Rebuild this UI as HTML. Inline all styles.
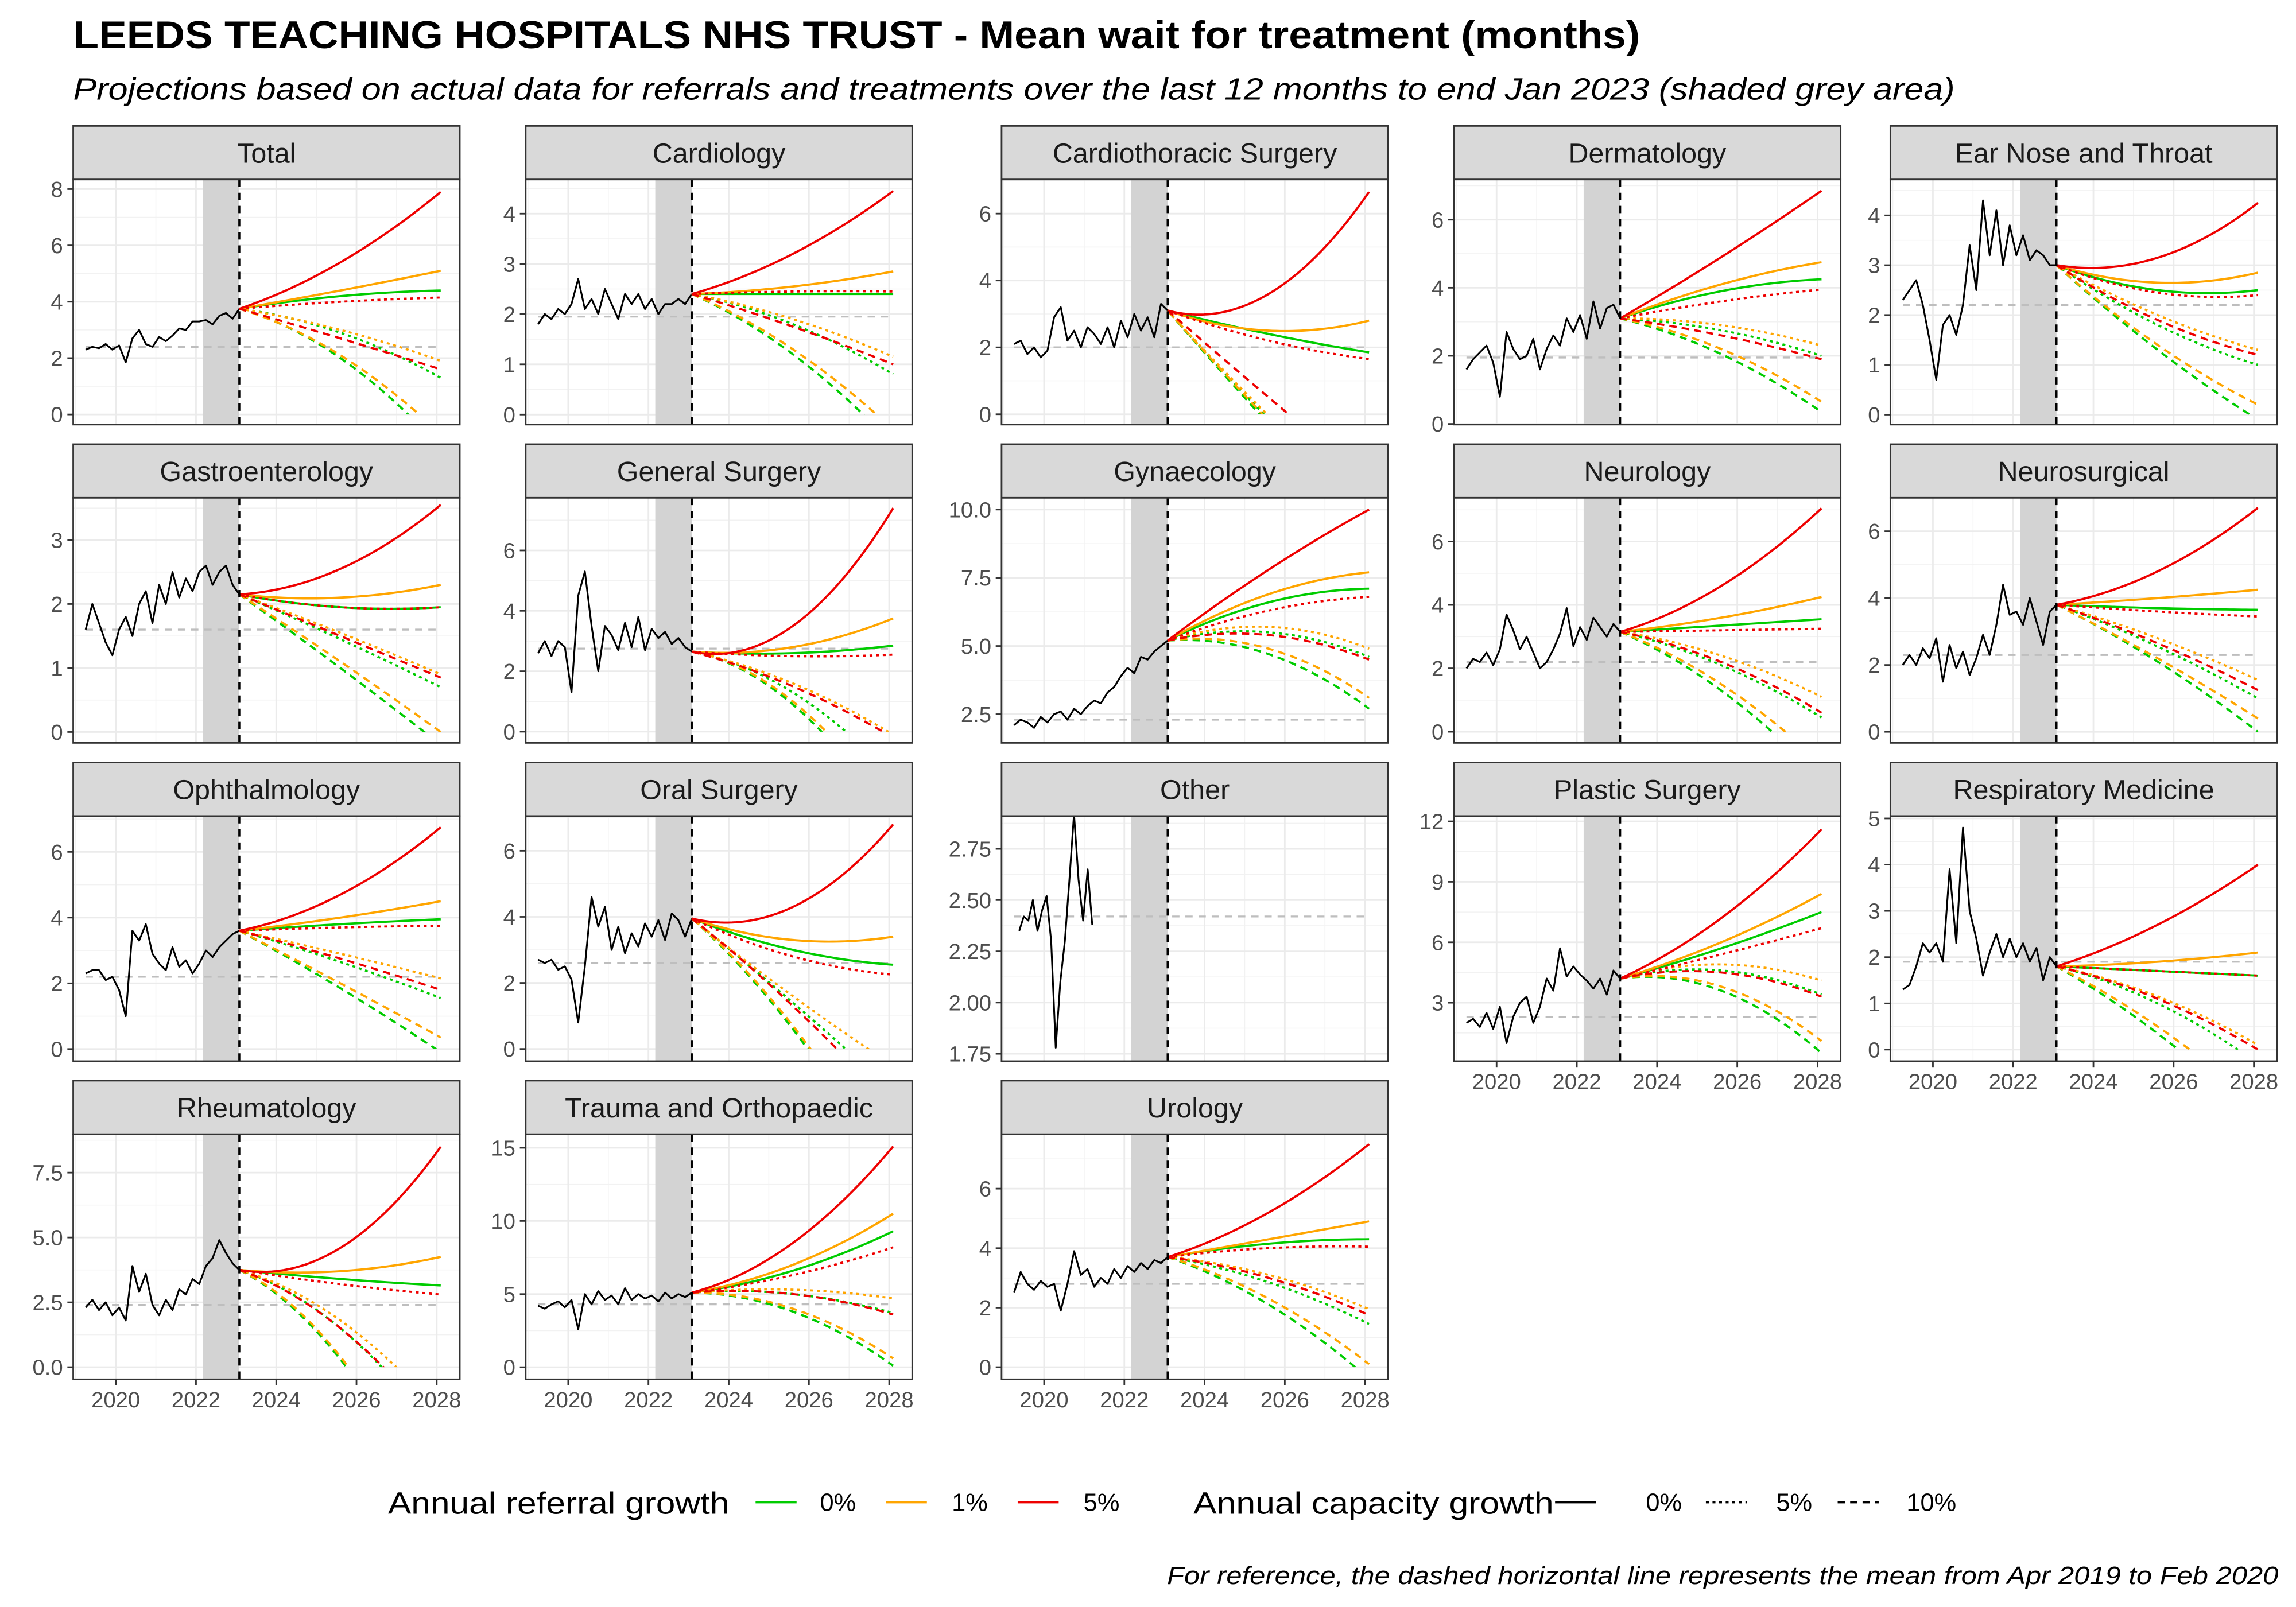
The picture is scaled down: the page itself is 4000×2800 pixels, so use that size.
<!DOCTYPE html>
<html><head><meta charset="utf-8"><title>Leeds Teaching Hospitals - Mean wait</title>
<style>
html,body{margin:0;padding:0;background:#fff;}
svg{display:block;font-family:"Liberation Sans",Arial,sans-serif;}
</style></head>
<body>
<svg id="chart" xmlns="http://www.w3.org/2000/svg" width="4000" height="2800" viewBox="0 0 1568 1097.6">
<rect x="0" y="0" width="1568" height="1097.6" fill="#fff"/>
<text x="50" y="33" font-size="26.5" font-weight="bold" fill="#000" textLength="1070" lengthAdjust="spacingAndGlyphs">LEEDS TEACHING HOSPITALS NHS TRUST - Mean wait for treatment (months)</text>
<text x="50" y="68" font-size="21" font-style="italic" fill="#000" textLength="1285" lengthAdjust="spacingAndGlyphs">Projections based on actual data for referrals and treatments over the last 12 months to end Jan 2023 (shaded grey area)</text>
<g id="panels"></g>
<g id="legend">
<text x="265" y="1034" font-size="21" fill="#000" textLength="233" lengthAdjust="spacingAndGlyphs">Annual referral growth</text>
<line x1="516" y1="1026" x2="544" y2="1026" stroke="#00CC00" stroke-width="1.6"/>
<text x="560" y="1032" font-size="17" fill="#000">0%</text>
<line x1="605" y1="1026" x2="633" y2="1026" stroke="#FFA500" stroke-width="1.6"/>
<text x="650" y="1032" font-size="17" fill="#000">1%</text>
<line x1="695" y1="1026" x2="723" y2="1026" stroke="#EE0000" stroke-width="1.6"/>
<text x="740" y="1032" font-size="17" fill="#000">5%</text>
<text x="815" y="1034" font-size="21" fill="#000" textLength="246" lengthAdjust="spacingAndGlyphs">Annual capacity growth</text>
<line x1="1062" y1="1026" x2="1090" y2="1026" stroke="#000" stroke-width="1.6"/>
<text x="1124" y="1032" font-size="17" fill="#000">0%</text>
<line x1="1165" y1="1026" x2="1193" y2="1026" stroke="#000" stroke-width="1.6" stroke-dasharray="2,2.5"/>
<text x="1213" y="1032" font-size="17" fill="#000">5%</text>
<line x1="1255" y1="1026" x2="1283" y2="1026" stroke="#000" stroke-width="1.6" stroke-dasharray="5,3.5"/>
<text x="1302" y="1032" font-size="17" fill="#000">10%</text>
</g>
<text x="1556" y="1082" font-size="17" font-style="italic" fill="#000" text-anchor="end" textLength="759" lengthAdjust="spacingAndGlyphs">For reference, the dashed horizontal line represents the mean from Apr 2019 to Feb 2020</text>
</svg>
<script>
const panelNames=["Total","Cardiology","Cardiothoracic Surgery","Dermatology","Ear Nose and Throat","Gastroenterology","General Surgery","Gynaecology","Neurology","Neurosurgical","Ophthalmology","Oral Surgery","Other","Plastic Surgery","Respiratory Medicine","Rheumatology","Trauma and Orthopaedic","Urology"];
const yLo=[-0.36,-0.2,-0.31,-0.02,-0.2,-0.17,-0.37,1.45,-0.35,-0.33,-0.37,-0.37,1.714,0.1,-0.25,-0.47,-0.83,-0.41];
const yHi=[8.34,4.68,7.02,7.18,4.72,3.66,7.74,10.43,7.38,7.0,7.09,7.05,2.91,12.26,5.05,8.98,15.93,7.83];
const yTickLabels=[
["0","2","4","6","8"],["0","1","2","3","4"],["0","2","4","6"],["0","2","4","6"],["0","1","2","3","4"],
["0","1","2","3"],["0","2","4","6"],["2.5","5.0","7.5","10.0"],["0","2","4","6"],["0","2","4","6"],
["0","2","4","6"],["0","2","4","6"],["1.75","2.00","2.25","2.50","2.75"],["3","6","9","12"],["0","1","2","3","4","5"],
["0.0","2.5","5.0","7.5"],["0","5","10","15"],["0","2","4","6"]];
const xTickLabels=["2020","2022","2024","2026","2028"];
const refValues=[2.4,1.95,2.0,1.95,2.2,1.6,2.75,2.3,2.2,2.3,2.2,2.6,2.42,2.3,1.9,2.4,4.3,2.8];
const histStart=[2019.25,2019.25,2019.25,2019.25,2019.25,2019.25,2019.25,2019.25,2019.25,2019.25,2019.25,2019.25,2019.38,2019.25,2019.25,2019.25,2019.25,2019.25];
const histEnd=[2023.08,2023.08,2023.08,2023.08,2023.08,2023.08,2023.08,2023.08,2023.08,2023.08,2023.08,2023.08,2021.2,2023.08,2023.08,2023.08,2023.08,2023.08];
const histValues=[
[2.3,2.4,2.35,2.5,2.3,2.45,1.85,2.7,3.0,2.5,2.4,2.75,2.6,2.8,3.05,3.0,3.3,3.3,3.35,3.2,3.5,3.6,3.4,3.75],
[1.8,2.0,1.9,2.1,2.0,2.2,2.7,2.1,2.3,2.0,2.5,2.2,1.9,2.4,2.2,2.4,2.1,2.3,2.0,2.2,2.2,2.3,2.2,2.4],
[2.1,2.2,1.8,2.0,1.7,1.9,2.9,3.2,2.2,2.5,2.0,2.6,2.4,2.1,2.6,2.0,2.8,2.3,3.0,2.5,2.9,2.3,3.3,3.1],
[1.6,1.9,2.1,2.3,1.8,0.8,2.7,2.2,1.9,2.0,2.5,1.6,2.2,2.6,2.3,3.1,2.7,3.2,2.5,3.6,2.8,3.4,3.5,3.1],
[2.3,2.5,2.7,2.2,1.5,0.7,1.8,2.0,1.6,2.2,3.4,2.5,4.3,3.2,4.1,3.0,3.8,3.2,3.6,3.1,3.3,3.2,3.0,3.0],
[1.6,2.0,1.7,1.4,1.2,1.6,1.8,1.5,2.0,2.2,1.7,2.3,2.0,2.5,2.1,2.4,2.2,2.5,2.6,2.3,2.5,2.6,2.3,2.15],
[2.6,3.0,2.5,3.0,2.8,1.3,4.5,5.3,3.5,2.0,3.5,3.2,2.7,3.6,2.8,3.8,2.7,3.4,3.1,3.3,2.9,3.1,2.8,2.65],
[2.1,2.3,2.2,2.0,2.4,2.2,2.5,2.6,2.3,2.7,2.5,2.8,3.0,2.9,3.3,3.5,3.9,4.2,4.0,4.6,4.5,4.8,5.0,5.2],
[2.0,2.3,2.2,2.5,2.1,2.6,3.7,3.2,2.6,3.0,2.5,2.0,2.2,2.6,3.1,3.9,2.7,3.3,2.9,3.6,3.3,3.0,3.4,3.15],
[2.0,2.3,2.0,2.5,2.2,2.8,1.5,2.6,1.9,2.4,1.7,2.2,2.9,2.3,3.2,4.4,3.5,3.6,3.2,4.0,3.3,2.6,3.6,3.8],
[2.3,2.4,2.4,2.1,2.2,1.8,1.0,3.6,3.3,3.8,2.9,2.6,2.4,3.1,2.5,2.7,2.3,2.6,3.0,2.8,3.1,3.3,3.5,3.6],
[2.7,2.6,2.7,2.4,2.5,2.1,0.8,2.5,4.6,3.7,4.3,3.0,3.7,2.9,3.5,3.1,3.8,3.4,3.9,3.3,4.1,3.9,3.4,3.95],
[2.35,2.42,2.40,2.5,2.35,2.45,2.52,2.3,1.78,2.1,2.3,2.6,2.92,2.6,2.4,2.65,2.38],
[2.0,2.2,1.8,2.5,1.7,2.8,1.0,2.3,3.0,3.3,2.0,2.8,4.2,3.6,5.7,4.3,4.8,4.4,4.1,3.7,4.2,3.4,4.6,4.2],
[1.3,1.4,1.8,2.3,2.1,2.3,1.9,3.9,2.3,4.8,3.0,2.4,1.6,2.1,2.5,2.0,2.4,2.0,2.3,1.9,2.2,1.5,2.0,1.8],
[2.3,2.6,2.2,2.5,2.0,2.3,1.8,3.9,2.9,3.6,2.4,2.0,2.6,2.2,3.0,2.8,3.4,3.2,3.9,4.2,4.9,4.4,4.0,3.75],
[4.2,4.0,4.3,4.5,4.1,4.6,2.6,5.0,4.3,5.2,4.6,4.9,4.3,5.4,4.6,5.0,4.7,4.9,4.5,5.1,4.7,5.0,4.8,5.1],
[2.5,3.2,2.8,2.6,2.9,2.7,2.8,1.9,2.8,3.9,3.1,3.3,2.7,3.0,2.8,3.3,3.0,3.4,3.2,3.5,3.3,3.6,3.5,3.7]];
/* projection order: green 0/5/10, orange 0/5/10, red 0/5/10 (referral growth / capacity growth) */
const projMid=[
[4.2,2.9,2.0,4.4,3.0,2.1,5.4,4.0,2.7],
[2.4,1.8,1.2,2.55,1.9,1.3,3.2,2.45,1.75],
[2.4,-0.15,-0.3,2.5,-0.05,-0.2,3.6,2.2,0.5],
[3.9,2.75,2.05,4.1,2.9,2.2,4.9,3.6,2.6],
[2.5,1.8,1.3,2.65,2.0,1.4,3.15,2.45,1.9],
[1.95,1.45,1.0,2.1,1.55,1.1,2.55,1.95,1.5],
[2.6,1.3,0.9,2.8,1.6,1.0,3.5,2.5,1.5],
[6.6,5.5,4.7,6.9,5.7,4.9,7.8,6.3,5.4],
[3.35,2.1,1.3,3.6,2.4,1.5,4.6,3.2,2.2],
[3.7,2.55,2.1,4.0,2.8,2.2,4.8,3.6,2.65],
[3.8,2.65,1.85,4.0,2.9,2.0,4.7,3.7,2.75],
[3.0,1.4,0.6,3.3,1.6,0.7,4.3,2.8,1.3],
[],
[5.7,4.6,3.6,6.0,4.9,3.8,7.2,5.4,4.5],
[1.7,1.0,0.35,1.9,1.15,0.5,2.7,1.7,1.1],
[3.4,1.5,0.3,3.7,1.8,0.4,4.6,3.2,1.5],
[6.6,5.0,3.8,7.0,5.3,4.0,8.5,6.3,5.0],
[4.15,2.85,2.1,4.3,3.1,2.3,5.2,4.0,3.0]];
const projEnd=[
[4.4,1.3,-1.2,5.1,1.9,-0.7,7.9,4.15,1.6],
[2.4,0.8,-0.6,2.85,1.15,-0.3,4.45,2.45,1.0],
[1.85,-3.0,-3.5,2.8,-2.8,-3.3,6.65,1.65,-2.0],
[4.25,2.0,0.35,4.75,2.3,0.65,6.85,3.95,1.9],
[2.5,1.0,-0.1,2.85,1.3,0.2,4.25,2.4,1.2],
[1.95,0.7,-0.2,2.3,0.9,0.0,3.55,1.95,0.85],
[2.85,-1.5,-3.0,3.75,-0.1,-2.7,7.4,2.55,-0.2],
[7.1,4.6,2.7,7.7,4.9,3.1,10.0,6.8,4.5],
[3.55,0.45,-1.5,4.25,1.1,-1.0,7.05,3.25,0.6],
[3.65,1.0,0.0,4.25,1.55,0.4,6.7,3.45,1.25],
[3.95,1.55,-0.1,4.5,2.15,0.35,6.75,3.75,1.8],
[2.55,-1.3,-4.0,3.4,-0.5,-3.8,6.8,2.25,-1.8],
[],
[7.5,3.4,0.5,8.4,4.1,1.1,11.6,6.7,3.3],
[1.6,-0.3,-1.5,2.1,0.1,-1.2,4.0,1.6,0.0],
[3.15,-2.7,-6.0,4.25,-1.8,-6.0,8.5,2.8,-2.5],
[9.3,3.7,0.1,10.5,4.7,0.6,15.1,8.2,3.6],
[4.3,1.45,-0.4,4.9,1.95,0.1,7.5,4.05,1.75]];

const NS="http://www.w3.org/2000/svg";
const colLeft=[50,359,684,993,1291];
const rowTop=[122.6,340,557.4,774.7];
const PW=264, PH=167.4, SH=36.6;
const X0=2018.94, XPX=27.4;
const seriesColors=["#00CC00","#00CC00","#00CC00","#FFA500","#FFA500","#FFA500","#EE0000","#EE0000","#EE0000"];
const seriesDash=["none","2,2.5","5,3.5","none","2,2.5","5,3.5","none","2,2.5","5,3.5"];
const seriesNames=["referral-0-capacity-0","referral-0-capacity-5","referral-0-capacity-10","referral-1-capacity-0","referral-1-capacity-5","referral-1-capacity-10","referral-5-capacity-0","referral-5-capacity-5","referral-5-capacity-10"];
const root=document.getElementById("panels");
function mk(tag,attrs,parent){const e=document.createElementNS(NS,tag);for(const k in attrs)e.setAttribute(k,attrs[k]);parent.appendChild(e);return e;}
function slug(s){return s.toLowerCase().replace(/[^a-z0-9]+/g,"-");}
const defs=mk("defs",{},root);

panelNames.forEach((name,i)=>{
  const r=Math.floor(i/5), c=i%5;
  const L=colLeft[c], T=rowTop[r], B=T+PH;
  const xs=yr=>L+(yr-X0)*XPX;
  const ys=v=>B-(v-yLo[i])/(yHi[i]-yLo[i])*PH;
  const g=mk("g",{},root);
  
  
  const strip=mk("rect",{x:L,y:T-SH,width:PW,height:SH,fill:"#D9D9D9",stroke:"#333",'stroke-width':1.1},g);
  
  
  const st=mk("text",{x:L+PW/2,y:T-SH/2+6.8,'font-size':19,fill:"#1A1A1A",'text-anchor':"middle"},g);
  st.textContent=name;
  
  
  const cid="clip"+i, cid0="clipz"+i;
  const cp=mk("clipPath",{id:cid},defs); mk("rect",{x:L,y:T,width:PW,height:PH},cp);
  const zeroY=Math.min(B,ys(0));
  const cp0=mk("clipPath",{id:cid0},defs); mk("rect",{x:L,y:T,width:PW,height:Math.max(0,zeroY-T)},cp0);
  const bg=mk("rect",{x:L,y:T,width:PW,height:PH,fill:"#fff"},g);
  
  
  const grid=mk("g",{'clip-path':"url(#"+cid+")"},g);
  
  
  for(let yr=2019;yr<=2029;yr+=2){const x=xs(yr);mk("line",{x1:x,x2:x,y1:T,y2:B,stroke:"#F2F2F2",'stroke-width':0.6},grid);}
  const tv=yTickLabels[i].map(parseFloat);
  const step=tv[1]-tv[0];
  for(let k=-1;k<tv.length;k++){const v=tv[0]+(k+0.5)*step;const y=ys(v);if(y>T&&y<B)mk("line",{x1:L,x2:L+PW,y1:y,y2:y,stroke:"#F2F2F2",'stroke-width':0.6},grid);}
  xTickLabels.forEach(lab=>{const x=xs(parseFloat(lab));mk("line",{x1:x,x2:x,y1:T,y2:B,stroke:"#EBEBEB",'stroke-width':1.1},grid);});
  tv.forEach(v=>{const y=ys(v);mk("line",{x1:L,x2:L+PW,y1:y,y2:y,stroke:"#EBEBEB",'stroke-width':1.1},grid);});
  const sh=mk("rect",{x:xs(2022.17),y:T,width:xs(2023.08)-xs(2022.17),height:PH,fill:"#D3D3D3"},g);
  
  
  const ref=mk("line",{x1:xs(2019.25),x2:xs(2028.1),y1:ys(refValues[i]),y2:ys(refValues[i]),stroke:"#BEBEBE",'stroke-width':1.3,'stroke-dasharray':"5,4"},g);
  
  
  const hv=histValues[i], n=hv.length;
  const hp=hv.map((v,k)=>{const t=histStart[i]+(histEnd[i]-histStart[i])*k/(n-1);return (k?"L":"M")+xs(t).toFixed(2)+","+ys(v).toFixed(2);}).join("");
  const hl=mk("path",{d:hp,fill:"none",stroke:"#000",'stroke-width':1.2,'stroke-linejoin':"round",'clip-path':"url(#"+cid+")"},g);
  
  
  if(projMid[i].length){
    const start=hv[n-1], t0=2023.08, t1=2025.6, t2=2028.1;
    const pg=mk("g",{'clip-path':"url(#"+cid0+")"},g);
    
    
    for(let s=0;s<9;s++){
      const y0=start,y1=projMid[i][s],y2=projEnd[i][s];
      let d="";
      for(let k=0;k<=50;k++){
        const t=t0+(t2-t0)*k/50;
        const v=y0*(t-t1)*(t-t2)/((t0-t1)*(t0-t2))+y1*(t-t0)*(t-t2)/((t1-t0)*(t1-t2))+y2*(t-t0)*(t-t1)/((t2-t0)*(t2-t1));
        d+=(k?"L":"M")+xs(t).toFixed(2)+","+ys(v).toFixed(2);
      }
      const p=mk("path",{d:d,fill:"none",stroke:seriesColors[s],'stroke-width':1.5},pg);
      if(seriesDash[s]!=="none")p.setAttribute("stroke-dasharray",seriesDash[s]);
      
      
    }
  }
  const vl=mk("line",{x1:xs(2023.08),x2:xs(2023.08),y1:T,y2:B,stroke:"#000",'stroke-width':1.4,'stroke-dasharray':"5,4"},g);
  
  
  const bd=mk("rect",{x:L,y:T,width:PW,height:PH,fill:"none",stroke:"#333",'stroke-width':1.1},g);
  
  
  const ya=mk("g",{},g);
  
  
  yTickLabels[i].forEach((lab,k)=>{
    const y=ys(tv[k]);
    mk("line",{x1:L-4,x2:L,y1:y,y2:y,stroke:"#333",'stroke-width':1.1},ya);
    const t=mk("text",{x:L-7,y:y+5.3,'font-size':15,fill:"#4D4D4D",'text-anchor':"end"},ya);
    t.textContent=lab;
    
    
  });
  const bottom=(r===3)||(r===2&&c>=3);
  if(bottom){
    const xa=mk("g",{},g);
    
    
    xTickLabels.forEach(lab=>{
      const x=xs(parseFloat(lab));
      mk("line",{x1:x,x2:x,y1:B,y2:B+4,stroke:"#333",'stroke-width':1.1},xa);
      const t=mk("text",{x:x,y:B+19,'font-size':15,fill:"#4D4D4D",'text-anchor':"middle"},xa);
      t.textContent=lab;
      
      
    });
  }
});
</script>
</body></html>
